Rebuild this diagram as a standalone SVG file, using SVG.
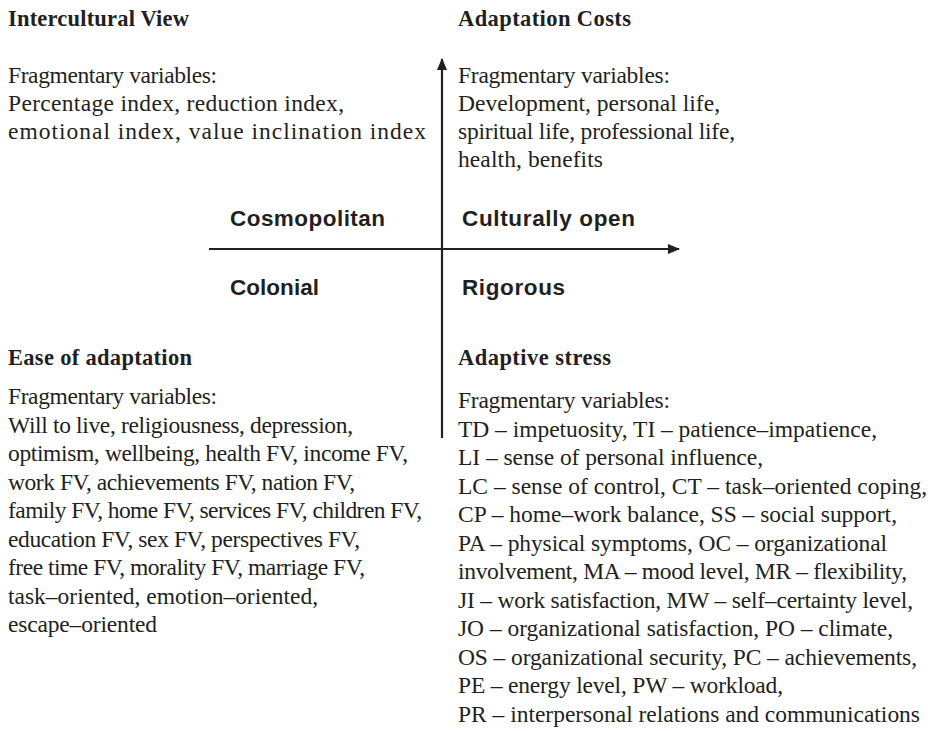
<svg xmlns="http://www.w3.org/2000/svg" width="932" height="731" viewBox="0 0 932 731">
<style>
.h{font-family:"Liberation Serif","Times New Roman",serif;font-weight:700;font-size:22.5px;fill:#231f20}
.t{font-family:"Liberation Serif","Times New Roman",serif;font-size:23.5px;fill:#231f20}
.a{font-family:"Liberation Sans",Arial,sans-serif;font-weight:700;font-size:22.5px;fill:#231f20}
.ax{stroke:#231f20;stroke-width:2.2;fill:none}
</style>
<defs>
<marker id="arr" viewBox="0 0 12 10" refX="11" refY="5" markerWidth="12" markerHeight="10" markerUnits="userSpaceOnUse" orient="auto">
<path d="M0,0 L12,5 L0,10 Z" fill="#231f20"/>
</marker>
</defs>
<rect width="932" height="731" fill="#ffffff"/>
<g id="connectors">
<line class="ax" x1="442" y1="438" x2="442" y2="59" marker-end="url(#arr)"/>
<line class="ax" x1="209" y1="249" x2="679" y2="249" marker-end="url(#arr)"/>
</g>
<g id="intercultural-view">
<text class="h" x="8" y="26" textLength="181">Intercultural View</text>
<text class="t" x="8" y="83" textLength="209">Fragmentary variables:</text>
<text class="t" x="8" y="111" textLength="336">Percentage index, reduction index,</text>
<text class="t" x="8" y="139" textLength="418">emotional index, value inclination index</text>
</g>
<g id="adaptation-costs">
<text class="h" x="458" y="26" textLength="173">Adaptation Costs</text>
<text class="t" x="458" y="83" textLength="212">Fragmentary variables:</text>
<text class="t" x="458" y="111" textLength="262">Development, personal life,</text>
<text class="t" x="458" y="139" textLength="277">spiritual life, professional life,</text>
<text class="t" x="458" y="167" textLength="145">health, benefits</text>
</g>
<g id="quadrant-labels">
<text class="a" x="230" y="226" textLength="155">Cosmopolitan</text>
<text class="a" x="462" y="226" textLength="173">Culturally open</text>
<text class="a" x="230" y="295" textLength="89">Colonial</text>
<text class="a" x="462" y="295" textLength="103">Rigorous</text>
</g>
<g id="ease-of-adaptation">
<text class="h" x="8" y="365" textLength="184">Ease of adaptation</text>
<text class="t" x="8" y="404" textLength="209">Fragmentary variables:</text>
<text class="t" x="8" y="432.5" textLength="345">Will to live, religiousness, depression,</text>
<text class="t" x="8" y="461" textLength="400">optimism, wellbeing, health FV, income FV,</text>
<text class="t" x="8" y="489.5" textLength="347">work FV, achievements FV, nation FV,</text>
<text class="t" x="8" y="518" textLength="414">family FV, home FV, services FV, children FV,</text>
<text class="t" x="8" y="546.5" textLength="352">education FV, sex FV, perspectives FV,</text>
<text class="t" x="8" y="575" textLength="357">free time FV, morality FV, marriage FV,</text>
<text class="t" x="8" y="603.5" textLength="310">task–oriented, emotion–oriented,</text>
<text class="t" x="8" y="632" textLength="149">escape–oriented</text>
</g>
<g id="adaptive-stress">
<text class="h" x="458" y="365" textLength="153">Adaptive stress</text>
<text class="t" x="458" y="408" textLength="212">Fragmentary variables:</text>
<text class="t" x="458" y="436.5" textLength="419">TD – impetuosity, TI – patience–impatience,</text>
<text class="t" x="458" y="465" textLength="305">LI – sense of personal influence,</text>
<text class="t" x="458" y="493.5" textLength="469">LC – sense of control, CT – task–oriented coping,</text>
<text class="t" x="458" y="522" textLength="439">CP – home–work balance, SS – social support,</text>
<text class="t" x="458" y="550.5" textLength="429">PA – physical symptoms, OC – organizational</text>
<text class="t" x="458" y="579" textLength="449">involvement, MA – mood level, MR – flexibility,</text>
<text class="t" x="458" y="607.5" textLength="455">JI – work satisfaction, MW – self–certainty level,</text>
<text class="t" x="458" y="636" textLength="435">JO – organizational satisfaction, PO – climate,</text>
<text class="t" x="458" y="664.5" textLength="459">OS – organizational security, PC – achievements,</text>
<text class="t" x="458" y="693" textLength="325">PE – energy level, PW – workload,</text>
<text class="t" x="458" y="721.5" textLength="462">PR – interpersonal relations and communications</text>
</g>
</svg>
